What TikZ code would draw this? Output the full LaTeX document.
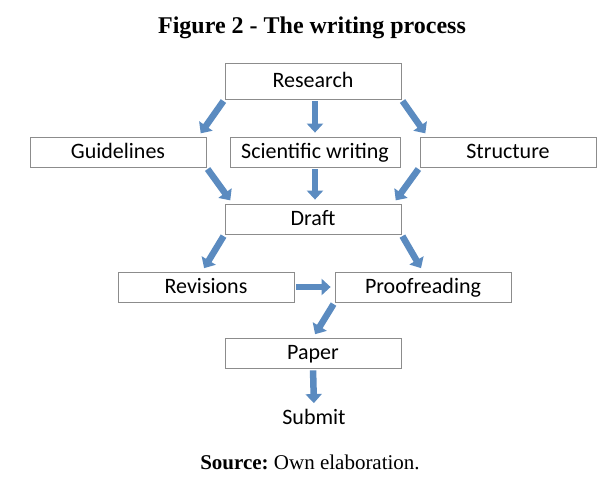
\documentclass[tikz,border=0pt]{standalone}
\usepackage{fontspec}
\setmainfont{Carlito}
\newfontfamily\captionfont{Liberation Serif}
\usetikzlibrary{arrows.meta}

\definecolor{flowblue}{RGB}{91,139,192}
\definecolor{boxgray}{RGB}{140,140,140}

\tikzset{
    stage/.style={draw=boxgray, line width=0.8pt, minimum width=176pt, minimum height=30pt,
        inner sep=0pt, text height=14pt, text depth=1pt, font=\fontsize{22}{26}\selectfont},
    flow/.style={flowblue, line width=6.5pt, -{Triangle[width=16pt, length=9pt]},
        shorten <=2pt, shorten >=4pt},
}

\begin{document}
\begin{tikzpicture}[x=1pt, y=-1pt]
        \useasboundingbox (0, 0) rectangle (614, 486);

        \node[font=\captionfont\bfseries\fontsize{24}{28}\selectfont] (title) at (312, 28) {Figure 2 - The writing process};

        \node[stage, minimum height=36pt] (research) at (313, 81) {Research};

        \node[stage] (guidelines) at (118, 152) {Guidelines};
        \node[stage, minimum width=170pt] (scientific) at (315, 152) {Scientific writing};
        \node[stage] (structure) at (508, 152) {Structure};

        \node[stage] (draft) at (313, 219) {Draft};

        \node[stage] (revisions) at (206, 287) {Revisions};
        \node[stage] (proofreading) at (423, 287) {Proofreading};

        \node[stage] (paper) at (313, 353) {Paper};

        \node[font=\fontsize{22}{26}\selectfont, inner sep=2pt] (submit) at (314, 417) {Submit};

        \node[font=\captionfont\fontsize{21}{25}\selectfont] (source) at (310, 462) {\textbf{Source:}~Own elaboration.};

        % research to the three inputs
        \draw[flow] (research.south west) -- ([xshift=-8pt]guidelines.north east);
        \draw[flow] (research.south -| scientific.north) -- (scientific.north);
        \draw[flow] (research.south east) -- ([xshift=8pt]structure.north west);

        % inputs into the draft
        \draw[flow] (guidelines.south east) -- ([xshift=8pt]draft.north west);
        \draw[flow] (scientific.south) -- (scientific.south |- draft.north);
        \draw[flow] (structure.south west) -- ([xshift=-8pt]draft.north east);

        % draft onwards
        \draw[flow] (draft.south west) -- ([xshift=-4pt]revisions.north);
        \draw[flow] (draft.south east) -- (proofreading.north);
        \draw[flow] (revisions.east) -- (proofreading.west);
        \draw[flow] (proofreading.south west) -- (paper.north);
        \draw[flow] (paper.south) -- (submit.north);

\end{tikzpicture}
\end{document}
